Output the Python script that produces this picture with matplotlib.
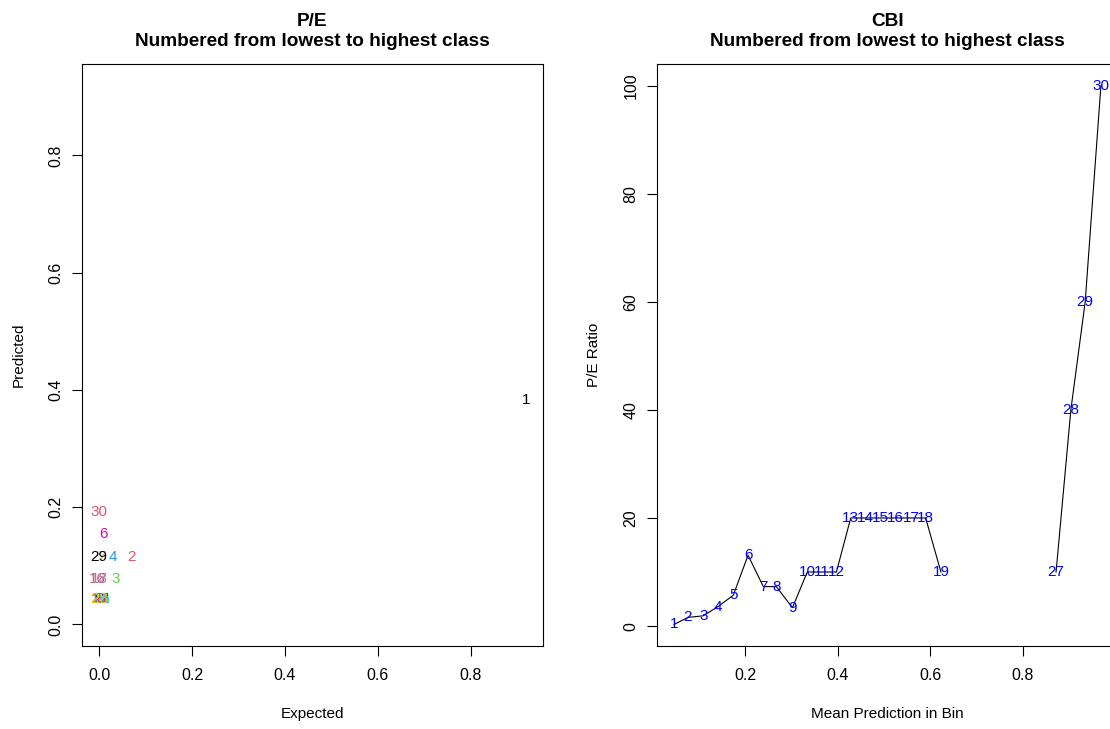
import numpy as np
import matplotlib
matplotlib.use("Agg")
import matplotlib.pyplot as plt

plt.rcParams["font.family"] = ["Liberation Sans", "DejaVu Sans"]

# left panel: expected vs predicted, one label per class
pe_class = list(range(1, 31))
pe_expected = [0.919, 0.070, 0.035, 0.029, 0.000, 0.010, 0.006, 0.004, 0.003, 0.000,
               0.004, 0.006, 0.005, 0.002, 0.002, -0.003, 0.000, 0.001, 0.004, 0.001,
               0.000, 0.003, 0.001, 0.004, 0.002, 0.005, 0.003, 0.001, 0.000, 0.000]
pe_predicted = [0.383, 0.115, 0.078, 0.115, 0.044, 0.155, 0.115, 0.044, 0.044, 0.044,
                0.044, 0.044, 0.044, 0.044, 0.044, 0.078, 0.078, 0.078, 0.044, 0.044,
                0.044, 0.044, 0.044, 0.044, 0.044, 0.044, 0.044, 0.044, 0.115, 0.192]

# right panel: CBI curve
cbi_bin = list(range(1, 31))
cbi_mean_pred = [0.046, 0.076, 0.109, 0.141, 0.174, 0.206, 0.239, 0.267, 0.302, 0.334,
                 0.366, 0.397, 0.428, 0.460, 0.493, 0.525, 0.558, 0.590, 0.623, np.nan,
                 np.nan, np.nan, np.nan, np.nan, np.nan, np.nan, 0.872, 0.904, 0.935, 0.969]
cbi_ratio = [0.3, 1.6, 1.9, 3.6, 5.7, 13.1, 7.3, 7.3, 3.4, 10.0,
             10.0, 10.0, 20.0, 20.0, 20.0, 20.0, 20.0, 20.0, 10.0, np.nan,
             np.nan, np.nan, np.nan, np.nan, np.nan, np.nan, 10.0, 40.0, 60.0, 100.0]

r_palette = ["#000000", "#DF536B", "#61D04F", "#2297E6", "#28E2E5", "#CD0BBC", "#F5C710"]
pe_colors = [r_palette[(c - 1) % 7] for c in pe_class]
# the middle row reads red / grey in the original
pe_colors[15] = "#DF536B"
pe_colors[16] = "#9E9E9E"
pe_colors[17] = "#B07AAE"

W, H = 1110, 729
fig = plt.figure(figsize=(W / 100, H / 100), dpi=100)


def r_style(ax):
    for s in ax.spines.values():
        s.set_linewidth(0.8)
        s.set_color("black")
    ax.tick_params(length=7.2, width=0.8, direction="out", labelsize=11.5)
    ax.tick_params(axis="x", pad=8.5)
    ax.tick_params(axis="y", pad=6)


def r_lim(vals):
    v = np.asarray(vals, dtype=float)
    lo, hi = np.nanmin(v), np.nanmax(v)
    d = 0.04 * (hi - lo)
    return lo - d, hi + d


def add_titles(ax, main, xlab, ylab):
    ax.set_title(main + "\nNumbered from lowest to highest class",
                 fontsize=13.7, fontweight="bold", pad=13, linespacing=1.2)
    ax.text(0.5, -0.117, xlab, transform=ax.transAxes, ha="center", va="center", fontsize=11)
    ax.text(-0.137, 0.5, ylab, transform=ax.transAxes, ha="center", va="center",
            rotation=90, fontsize=11)


# ---- P/E ----
ax1 = fig.add_axes([82 / W, (H - 646) / H, 461 / W, 582 / H])
r_style(ax1)
top = max(max(pe_expected), max(pe_predicted))
lims = r_lim([0, top])
ax1.set_xlim(lims)
ax1.set_ylim(lims)
for c, x, y, col in zip(pe_class, pe_expected, pe_predicted, pe_colors):
    ax1.text(x, y, str(c), ha="center", va="center", fontsize=11, color=col)
ticks = [0.0, 0.2, 0.4, 0.6, 0.8]
ax1.set_xticks(ticks, ["%.1f" % t for t in ticks])
ax1.set_yticks(ticks, ["%.1f" % t for t in ticks], rotation=90, va="center")
add_titles(ax1, "P/E", "Expected", "Predicted")

# ---- CBI ----
ax2 = fig.add_axes([657 / W, (H - 646) / H, 461 / W, 582 / H])
r_style(ax2)
ax2.plot(cbi_mean_pred, cbi_ratio, color="black", lw=0.8)
for b, x, y in zip(cbi_bin, cbi_mean_pred, cbi_ratio):
    if np.isnan(x):
        continue
    ax2.text(x, y, str(b), ha="center", va="center", fontsize=11, color="blue")
ax2.set_xlim(r_lim(cbi_mean_pred))
ax2.set_ylim(r_lim(cbi_ratio))
xt = [0.2, 0.4, 0.6, 0.8]
ax2.set_xticks(xt, ["%.1f" % t for t in xt])
yt = [0, 20, 40, 60, 80, 100]
ax2.set_yticks(yt, [str(t) for t in yt], rotation=90, va="center")
add_titles(ax2, "CBI", "Mean Prediction in Bin", "P/E Ratio")

fig.savefig("out.png", dpi=100)
